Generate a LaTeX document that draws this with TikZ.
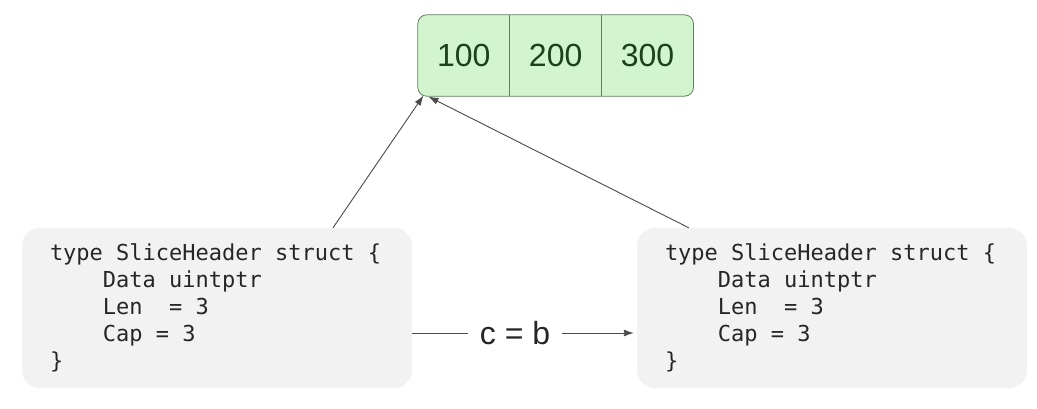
\documentclass[tikz,border=0pt]{standalone}
\usepackage{fontspec}
\setmainfont{Liberation Sans}
\setmonofont{DejaVu Sans Mono}
\usetikzlibrary{positioning,fit,backgrounds,arrows.meta}
\definecolor{cellgreen}{HTML}{D2F5CE}
\definecolor{cellline}{HTML}{5E7F5E}
\definecolor{celltext}{HTML}{1C421C}
\definecolor{codebg}{HTML}{F2F2F2}
\definecolor{codetext}{HTML}{262626}
\definecolor{linkgray}{HTML}{4A4A4A}
\tikzset{
  cell/.style={minimum width=91.5pt,minimum height=81pt,inner sep=0pt,
    font=\fontsize{32}{36}\selectfont,text=celltext},
  codebox/.style={fill=codebg,rounded corners=18pt,minimum width=390pt,minimum height=160pt,
    text width=334pt,align=left,inner xsep=28pt,inner ysep=0pt,text=codetext,
    font=\fontsize{22}{27}\ttfamily\selectfont},
  link/.style={draw=linkgray,line width=0.9pt,-{Latex[length=10pt,width=7pt]}},
  lbl/.style={fill=white,inner xsep=12pt,font=\fontsize{32}{36}\selectfont,text=codetext}
}
% one monospaced blank
\newcommand{\ms}{\hphantom{x}}
\newcommand{\codelines}{type\ms SliceHeader\ms struct\ms\{\\
\ms\ms\ms\ms Data\ms uintptr\\
\ms\ms\ms\ms Len\ms\ms=\ms3\\
\ms\ms\ms\ms Cap\ms=\ms3\\
\}}
\begin{document}
\begin{tikzpicture}[x=1pt,y=-1pt]
\useasboundingbox (0,0) rectangle (1037,409);
% array of three values
\node[cell] (n100) at (463.75,55.5) {100};
\node[cell,right=0pt of n100] (n200) {200};
\node[cell,right=0pt of n200] (n300) {300};
\begin{scope}[on background layer]
\node[fit=(n100)(n300),inner sep=0pt,draw=cellline,fill=cellgreen,rounded corners=9pt,line width=0.8pt] (arr) {};
\end{scope}
\draw[cellline,line width=0.8pt](n100.north east)--(n100.south east);
\draw[cellline,line width=0.8pt](n200.north east)--(n200.south east);
% the two slice headers
\node[codebox] (left) at (217,308) {\codelines};
\node[codebox] (right) at (832,308) {\codelines};
\draw[link]([xshift=116pt]left.north)--([xshift=6pt,yshift=1pt]arr.south west);
\draw[link]([xshift=52pt]right.north west)--([xshift=11pt]arr.south west);
\draw[link]([yshift=-25pt]left.east)--node[lbl,pos=0.464]{c = b}([yshift=-25pt,xshift=-3pt]right.west);
\end{tikzpicture}
\end{document}
